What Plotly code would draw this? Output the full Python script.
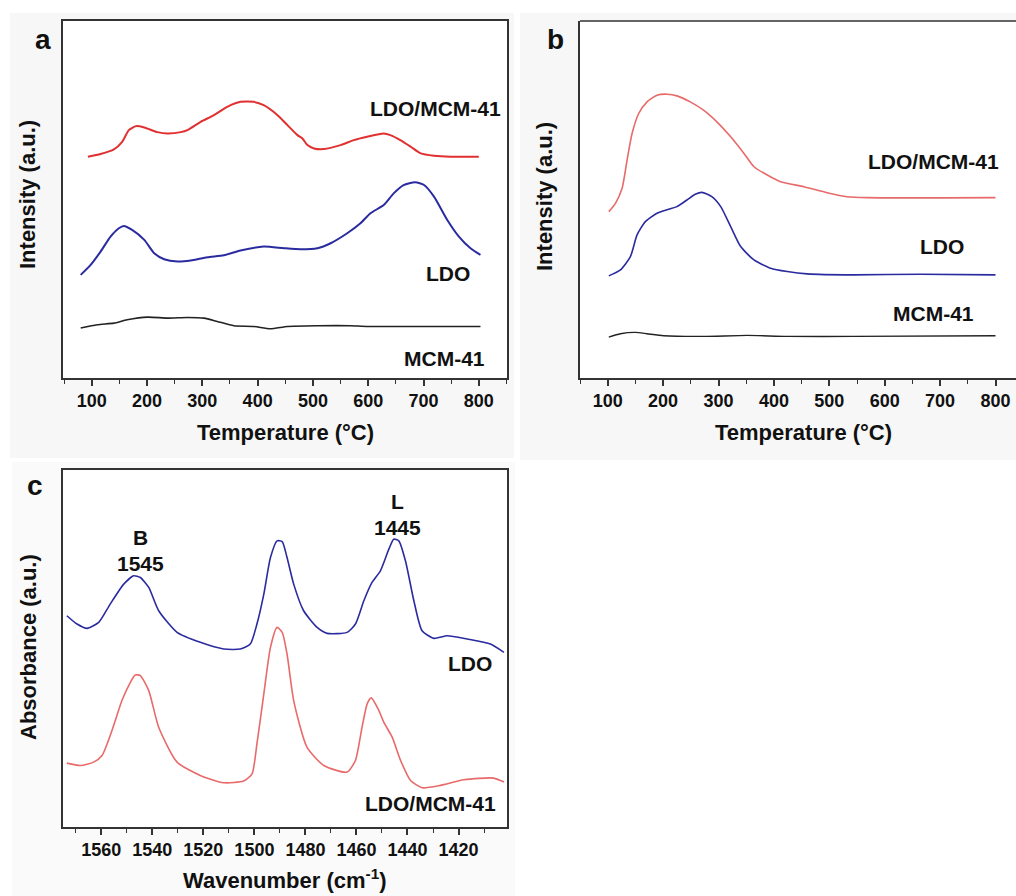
import plotly.graph_objects as go

# ---------------- Panel a: TPD (temperature, intensity a.u.) ----------------
a_ldomcm_T = [93, 116, 140, 155, 167, 180, 195, 219, 237, 261, 273, 297, 321, 345, 369, 393, 411,
              436, 454, 472, 481, 490, 502, 520, 550, 574, 598, 628, 640, 658, 677, 695, 719, 749, 800]
a_ldomcm_I = [66.5, 67.3, 68.7, 71.0, 74.5, 75.7, 75.3, 73.9, 73.5, 73.9, 74.5, 77.0, 79.0, 81.5, 83.0, 83.0, 82.0,
              79.0, 76.0, 73.0, 72.0, 70.0, 69.0, 68.8, 70.0, 71.5, 72.5, 73.5, 73.0, 71.5, 69.5, 67.5, 66.8, 66.5, 66.5]

a_ldo_T = [80, 98, 116, 134, 149, 158, 173, 195, 213, 231, 255, 279, 309, 339, 369, 411, 448, 478, 508,
           532, 562, 586, 604, 628, 646, 664, 685, 701, 719, 743, 764, 785, 803]
a_ldo_I = [31.0, 34.0, 38.0, 42.5, 45.0, 45.7, 44.5, 41.5, 37.5, 35.7, 35.0, 35.3, 36.3, 36.9, 38.3, 39.5, 39.0, 38.7, 39.0,
           40.5, 43.5, 46.5, 49.5, 52.0, 55.5, 58.0, 58.8, 58.0, 54.5, 47.5, 42.5, 39.0, 37.0]

a_mcm_T = [80, 110, 140, 164, 201, 237, 273, 303, 327, 357, 393, 423, 454, 508, 568, 598, 803]
a_mcm_I = [15.0, 16.0, 16.5, 17.5, 18.3, 18.0, 18.2, 18.0, 17.0, 15.7, 15.5, 14.8, 15.5, 15.7, 15.7, 15.5, 15.5]

# ---------------- Panel b ----------------
b_ldomcm_T = [102, 114, 126, 135, 144, 156, 171, 189, 207, 225, 249, 273, 297, 322, 346, 364, 388, 412,
              454, 496, 532, 568, 800]
b_ldomcm_I = [50.0, 52.5, 57.0, 65.5, 73.5, 79.5, 83.0, 85.0, 85.3, 84.8, 83.0, 80.5, 77.0, 72.5, 67.5, 63.5, 61.0, 59.0,
              57.5, 55.7, 54.5, 54.2, 54.2]

b_ldo_T = [102, 123, 141, 153, 168, 189, 210, 225, 243, 258, 270, 288, 304, 322, 340, 364, 394, 424, 460, 544, 665, 800]
b_ldo_I = [30.7, 32.5, 36.5, 43.0, 47.0, 49.5, 50.7, 51.5, 53.5, 55.2, 55.8, 54.5, 51.5, 45.5, 39.5, 35.5, 33.0, 32.0,
           31.3, 31.0, 31.2, 31.0]

b_mcm_T = [102, 123, 150, 171, 201, 273, 352, 424, 544, 800]
b_mcm_I = [12.3, 13.3, 13.7, 13.3, 12.7, 12.5, 12.8, 12.5, 12.5, 12.7]

# ---------------- Panel c: IR (wavenumber, absorbance a.u.) ----------------
c_ldo_W = [1573.5, 1569.5, 1565.6, 1561.0, 1556.5, 1551.2, 1547.3, 1544.7, 1541.4, 1537.5, 1530.3, 1521.2, 1512.0,
           1505.5, 1501.6, 1499.0, 1496.3, 1493.7, 1491.1, 1489.1, 1487.2, 1484.6, 1480.7, 1475.4, 1471.5, 1463.7,
           1460.4, 1457.1, 1453.9, 1450.6, 1447.3, 1445.4, 1443.4, 1440.8, 1437.5, 1434.3, 1429.7, 1424.4, 1416.6,
           1407.5, 1402.2]
c_ldo_A = [63.5, 61.0, 59.7, 61.5, 67.0, 73.0, 75.5, 75.0, 72.0, 65.0, 58.5, 55.5, 53.5,
           53.5, 55.0, 61.0, 70.0, 81.0, 86.0, 85.8, 81.0, 73.0, 65.0, 60.0, 58.2, 58.5,
           61.0, 68.0, 73.5, 77.0, 83.5, 86.5, 86.0, 80.0, 68.0, 59.0, 56.7, 57.5, 56.5,
           55.0, 52.5]

c_ldomcm_W = [1573.5, 1568.2, 1563.0, 1559.7, 1555.8, 1551.9, 1548.6, 1546.7, 1544.7, 1541.4, 1537.5, 1530.3, 1521.2,
              1512.0, 1504.2, 1500.9, 1499.0, 1496.3, 1493.7, 1491.1, 1489.1, 1487.2, 1484.6, 1479.4, 1472.8, 1463.7,
              1460.4, 1457.8, 1455.8, 1454.2, 1451.2, 1449.3, 1446.0, 1442.7, 1438.8, 1434.3, 1427.1, 1417.9, 1406.2,
              1402.2]
c_ldomcm_A = [19.2, 18.5, 19.5, 21.5, 29.0, 38.0, 43.5, 45.7, 45.5, 41.0, 30.0, 19.5, 15.5,
              13.3, 13.8, 16.0, 25.0, 40.0, 54.0, 60.0, 58.5, 52.0, 38.0, 24.0, 18.5, 16.5,
              20.0, 30.0, 37.0, 38.8, 35.0, 31.5, 27.0, 20.0, 14.0, 11.8, 12.5, 14.2, 14.7,
              13.5]

W, H = 1016, 896
RED_A = "#e03030"
RED_B = "#e86a6a"
BLUE = "#2b2ba0"
BLACK = "#222222"
FONT = "Liberation Sans, Arial, sans-serif"


def px(x):
    return x / W


def py(y):
    return 1 - y / H


fig = go.Figure()

line_kw = dict(mode="lines", showlegend=False, hoverinfo="skip", line_shape="spline", line_smoothing=0.6)
fig.add_trace(go.Scatter(x=a_ldomcm_T, y=a_ldomcm_I, line=dict(color=RED_A, width=2), xaxis="x", yaxis="y", **line_kw))
fig.add_trace(go.Scatter(x=a_ldo_T, y=a_ldo_I, line=dict(color=BLUE, width=2), xaxis="x", yaxis="y", **line_kw))
fig.add_trace(go.Scatter(x=a_mcm_T, y=a_mcm_I, line=dict(color=BLACK, width=1.6), xaxis="x", yaxis="y", **line_kw))

fig.add_trace(go.Scatter(x=b_ldomcm_T, y=b_ldomcm_I, line=dict(color=RED_B, width=1.6), xaxis="x2", yaxis="y2", **line_kw))
fig.add_trace(go.Scatter(x=b_ldo_T, y=b_ldo_I, line=dict(color=BLUE, width=1.6), xaxis="x2", yaxis="y2", **line_kw))
fig.add_trace(go.Scatter(x=b_mcm_T, y=b_mcm_I, line=dict(color=BLACK, width=1.4), xaxis="x2", yaxis="y2", **line_kw))

fig.add_trace(go.Scatter(x=c_ldo_W, y=c_ldo_A, line=dict(color=BLUE, width=1.6), xaxis="x3", yaxis="y3", **line_kw))
fig.add_trace(go.Scatter(x=c_ldomcm_W, y=c_ldomcm_A, line=dict(color=RED_B, width=1.6), xaxis="x3", yaxis="y3", **line_kw))

axis_line = dict(showline=True, linecolor="#333333", linewidth=1.5, showgrid=False, zeroline=False)
tickfont = dict(family=FONT, size=18, color="#111111", weight="bold")


def xaxis(rng, dom, anchor, dtick, tick0, minor_dtick, mirror=True):
    return dict(range=rng, domain=dom, anchor=anchor, ticks="outside", ticklen=6, tickwidth=1.5,
                tickcolor="#333333", dtick=dtick, tick0=tick0, tickfont=tickfont, mirror=mirror,
                minor=dict(ticks="outside", ticklen=4, tickwidth=1.2, tickcolor="#333333", dtick=minor_dtick,
                           tick0=tick0, showgrid=False),
                **axis_line)


def yaxis(dom, anchor, mirror=True):
    return dict(range=[0, 107.3], domain=dom, anchor=anchor, showticklabels=False, ticks="",
                mirror=mirror, **axis_line)


ya_dom = [py(378), py(21)]
yc_dom = [py(827), py(470)]

fig.update_layout(
    width=W, height=H,
    margin=dict(l=0, r=0, t=0, b=0),
    paper_bgcolor="white",
    plot_bgcolor="rgba(0,0,0,0)",
    xaxis=xaxis([48, 851], [px(63), px(507)], "y", 100, 100, 50),
    yaxis=yaxis(ya_dom, "x"),
    xaxis2=xaxis([50, 837], [px(580), 1.0], "y2", 100, 100, 50, mirror=False),
    yaxis2=yaxis(ya_dom, "x2", mirror=False),
    xaxis3=xaxis([1575, 1401], [px(63), px(507)], "y3", 20, 1420, 10),
    yaxis3=yaxis(yc_dom, "x3"),
)

shapes = [
    # light grey panel backdrops
    dict(type="rect", xref="paper", yref="paper", x0=px(10), x1=px(514), y0=py(458), y1=py(13),
         fillcolor="#f7f7f7", line=dict(width=0), layer="below"),
    dict(type="rect", xref="paper", yref="paper", x0=px(520), x1=1.0, y0=py(460), y1=py(13),
         fillcolor="#f7f7f7", line=dict(width=0), layer="below"),
    dict(type="rect", xref="paper", yref="paper", x0=px(12), x1=px(515), y0=0, y1=py(462),
         fillcolor="#fafafa", line=dict(width=0), layer="below"),
    # white plot areas
    dict(type="rect", xref="paper", yref="paper", x0=px(63), x1=px(507), y0=py(378), y1=py(21),
         fillcolor="white", line=dict(width=0), layer="below"),
    dict(type="rect", xref="paper", yref="paper", x0=px(580), x1=1.0, y0=py(378), y1=py(21),
         fillcolor="white", line=dict(width=0), layer="below"),
    dict(type="rect", xref="paper", yref="paper", x0=px(63), x1=px(507), y0=py(827), y1=py(470),
         fillcolor="white", line=dict(width=0), layer="below"),
    # top border of panel b
    dict(type="line", xref="paper", yref="paper", x0=px(580), x1=1.0, y0=py(21), y1=py(21),
         line=dict(color="#333333", width=1.5)),
]
fig.update_layout(shapes=shapes)


def ann(text, x, y, size, angle=0, yanchor="middle"):
    return dict(text=text, x=x, y=y, xref="paper", yref="paper", showarrow=False, textangle=angle,
                font=dict(family=FONT, size=size, color="#111111", weight="bold"),
                xanchor="center", yanchor=yanchor)


annotations = [
    # panel letters
    ann("a", px(43), py(40), 28),
    ann("b", px(555), py(40), 28),
    ann("c", px(35), py(485), 28),
    # axis titles
    ann("Temperature (°C)", px(285), py(432), 22),
    ann("Temperature (°C)", px(803), py(432), 22),
    ann("Wavenumber (cm<sup>-1</sup>)", px(285), py(895), 22, yanchor="bottom"),
    ann("Intensity (a.u.)", px(27), py(195), 22, angle=-90),
    ann("Intensity (a.u.)", px(545), py(197), 22, angle=-90),
    ann("Absorbance (a.u.)", px(28), py(647), 22, angle=-90),
    # curve labels panel a
    ann("LDO/MCM-41", px(435), py(108), 21),
    ann("LDO", px(448), py(273), 21),
    ann("MCM-41", px(444), py(358), 21),
    # curve labels panel b
    ann("LDO/MCM-41", px(933), py(162), 21),
    ann("LDO", px(942), py(247), 21),
    ann("MCM-41", px(933), py(313), 21),
    # panel c labels
    ann("B", px(140), py(537), 21),
    ann("1545", px(140), py(563), 21),
    ann("L", px(397), py(502), 21),
    ann("1445", px(397), py(527), 21),
    ann("LDO", px(470), py(663), 21),
    ann("LDO/MCM-41", px(430), py(803), 21),
]
fig.update_layout(annotations=annotations)

fig.write_html("out.html")
